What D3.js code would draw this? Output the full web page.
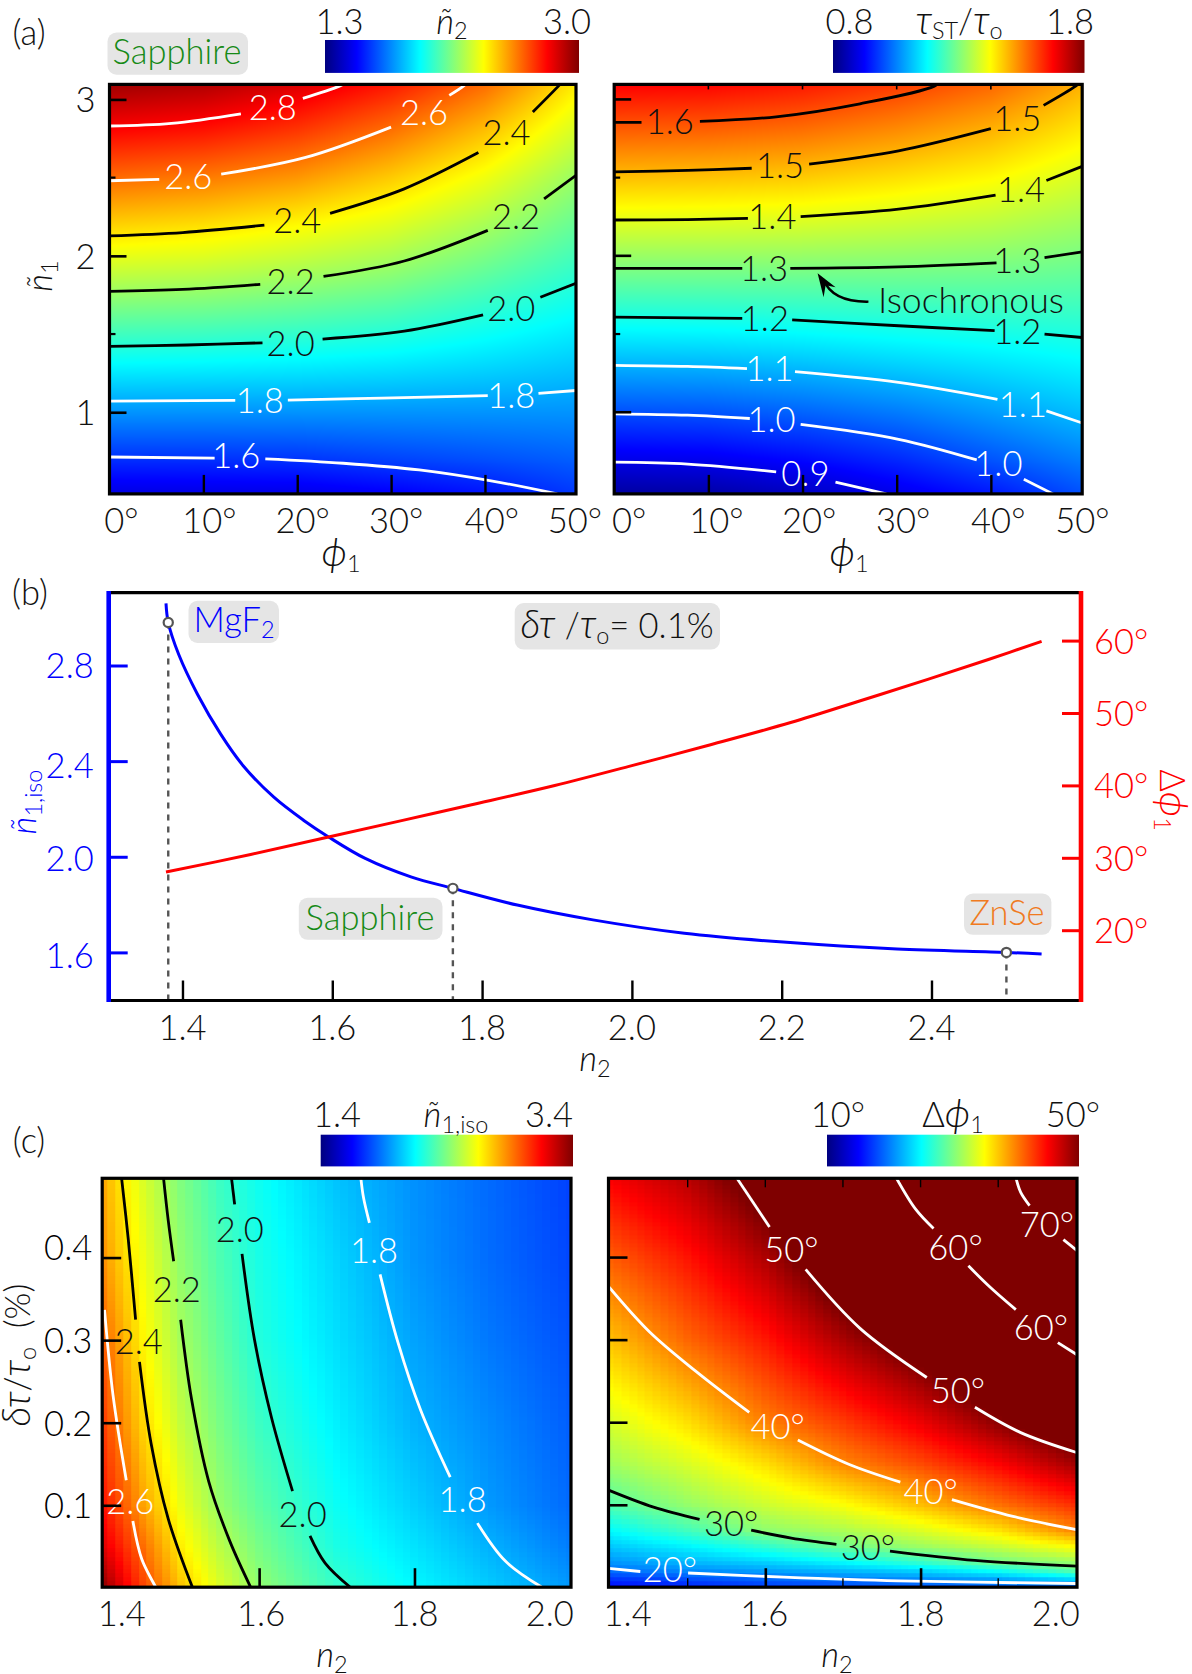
<!DOCTYPE html>
<html><head><meta charset="utf-8">
<script src="https://cdn.jsdelivr.net/npm/d3@7"></script>
<style>
html,body{margin:0;padding:0;background:#fff}
svg{display:block}
text{font-family:"Lato","Open Sans",sans-serif;font-weight:300;fill:#111}
.it{font-style:italic}
.gr{font-style:italic}
</style></head><body>
<script>
// ---------- panel (a) left: n~2 over (phi1, n~1)
const aLeftX=[0,10,20,30,40,50];
const aLeftY=[3.1,2.8,2.5,2.2,1.9,1.6,1.3,1.0,0.7,0.47];
const aLeftZ=[
[2.95,2.92,2.85,2.75,2.61,2.39],
[2.783,2.757,2.697,2.6,2.47,2.29],
[2.611,2.583,2.537,2.45,2.34,2.19],
[2.44,2.417,2.371,2.313,2.22,2.106],
[2.272,2.258,2.224,2.181,2.106,2.02],
[2.102,2.093,2.072,2.042,1.99,1.933],
[1.931,1.925,1.916,1.901,1.876,1.846],
[1.76,1.759,1.759,1.76,1.76,1.759],
[1.592,1.594,1.6,1.623,1.646,1.672],
[1.463,1.466,1.47,1.5,1.54,1.606]];
const aLeftContours=[
[2.8,[[[0,2.83],[6.6,2.847],[14,2.908]],[[20.6,3.007],[24.5,3.085],[26,3.13]]]],
[2.6,[[[0,2.48],[5.3,2.489]],[[11.9,2.522],[20.9,2.629],[30,2.823]],[[36.2,3.026],[37.7,3.085],[38.5,3.13]]]],
[2.4,[[[0,2.128],[7.8,2.149],[16.5,2.196]],[[23.5,2.272],[31.4,2.428],[39.3,2.66]],[[45.1,2.92],[47.9,3.09],[48.5,3.13]]]],
[2.2,[[[0,1.773],[7.8,1.785],[16.06,1.818]],[[22.8,1.868],[31.4,1.967],[40.3,2.163]],[[46.3,2.364],[49.7,2.515]]]],
[2.0,[[[0,1.421],[8.25,1.43],[16.3,1.444]],[[22.7,1.468],[31.4,1.518],[39.8,1.622]],[[45.9,1.735],[49.7,1.825]]]],
[1.8,[[[0,1.071],[13.4,1.076]],[[19,1.078],[29,1.09],[40.3,1.106]],[[45.7,1.121],[49.7,1.139]]]],
[1.6,[[[0,0.714],[11.2,0.707]],[[16.6,0.702],[24.9,0.674],[33,0.631],[40.8,0.56],[47.7,0.478]]]]];
const aLeftLabels=[[2.8,17.4,2.948],[2.6,33.5,2.913],[2.6,8.4,2.508],[2.4,42.3,2.79],[2.4,20,2.227],[2.2,43.3,2.25],[2.2,19.3,1.837],[2.0,42.8,1.66],[2.0,19.3,1.442],[1.8,16,1.073],[1.8,42.8,1.104],[1.6,13.5,0.721]];
// ---------- panel (a) right: tau_ST/tau_o
const aRightX=[0,10,20,30,40,50];
const aRightY=[3.1,2.8,2.5,2.2,1.9,1.6,1.3,1.0,0.7,0.47];
const aRightZ=[
[1.678,1.674,1.653,1.619,1.575,1.5],
[1.583,1.579,1.565,1.537,1.5,1.443],
[1.488,1.484,1.476,1.455,1.429,1.386],
[1.391,1.389,1.385,1.373,1.358,1.331],
[1.294,1.294,1.293,1.292,1.288,1.276],
[1.197,1.199,1.204,1.212,1.218,1.222],
[1.1,1.103,1.113,1.13,1.148,1.168],
[1.003,1.008,1.024,1.047,1.079,1.113],
[0.906,0.911,0.933,0.965,1.009,1.052],
[0.832,0.837,0.864,0.903,0.945,1.004]];
const aRightContours=[
[1.6,[[[0,2.853],[2.9,2.853]],[[9.1,2.86],[17.2,2.889],[26.1,2.972],[34,3.085],[35,3.13]]]],
[1.5,[[[0,2.537],[7.8,2.546],[14.6,2.56]],[[20.7,2.586],[30.2,2.671],[40,2.813]],[[45.6,2.962],[49,3.085],[49.7,3.12]]]],
[1.4,[[[0,2.229],[7.8,2.232],[14.2,2.239]],[[19.8,2.251],[30.2,2.298],[40.5,2.388]],[[45.9,2.482],[49.7,2.572]]]],
[1.3,[[[0,1.92],[13.6,1.92]],[[18.7,1.92],[30.2,1.929],[40.6,1.955]],[[45.7,1.988],[49.7,2.026]]]],
[1.2,[[[0,1.608],[13.6,1.6]],[[18.9,1.591],[30.2,1.553],[40.4,1.522]],[[45.7,1.499],[49.7,1.478]]]],
[1.1,[[[0,1.3],[7.8,1.293],[14.1,1.279]],[[19.2,1.26],[30.2,1.191],[40.7,1.083]],[[45.9,1.009],[49.7,0.931]]]],
[1.0,[[[0,0.99],[7.8,0.981],[14.4,0.96]],[[19.8,0.922],[30.2,0.827],[38.5,0.695]],[[43.5,0.572],[46.6,0.478]]]],
[0.9,[[[0,0.681],[7.8,0.669],[17.2,0.619]],[[23.5,0.553],[28.9,0.478]]]]];
const aRightLabels=[[1.6,5.9,2.858],[1.5,42.8,2.877],[1.5,17.6,2.577],[1.4,43.2,2.421],[1.4,16.8,2.251],[1.3,42.8,1.972],[1.3,15.9,1.92],[1.2,16,1.596],[1.2,42.8,1.513],[1.1,16.5,1.277],[1.1,43.4,1.052],[1.0,16.7,0.955],[1.0,40.8,0.674],[0.9,20.3,0.608]];
// ---------- panel (b)
const n2Blue=[1.378,1.381,1.395,1.42,1.451,1.481,1.522,1.562,1.595,1.644,1.705,1.761,1.847,1.948,2.07,2.202,2.354,2.5,2.547];
const n1Iso=[3.06,2.98,2.846,2.68,2.513,2.381,2.249,2.152,2.083,1.993,1.916,1.868,1.798,1.736,1.68,1.643,1.614,1.6,1.593];
const n2Red=[1.378,1.491,1.595,1.694,1.786,1.897,2.0,2.1,2.212,2.304,2.395,2.476,2.547];
const dPhi=[28.03,30.45,32.88,35.17,37.32,39.98,42.73,45.48,48.68,51.66,54.64,57.39,59.9];
const materialN2=[1.381,1.761,2.5];
const materialN1=[2.98,1.868,1.6];
// ---------- panel (c) left: n~1,iso
const cLeftX=[1.4,1.425,1.45,1.5,1.55,1.6,1.7,1.8,1.9,2.0];
const cLeftY=[0.5,0.4,0.3,0.2,0.1,0.05,0];
const cLeftZ=[
[2.5,2.39,2.3,2.147,2.033,1.957,1.837,1.754,1.687,1.62],
[2.54,2.43,2.34,2.178,2.065,1.977,1.867,1.76,1.69,1.63],
[2.62,2.496,2.378,2.211,2.097,1.994,1.886,1.785,1.71,1.65],
[2.68,2.555,2.43,2.26,2.137,2.036,1.915,1.81,1.74,1.67],
[2.75,2.64,2.52,2.33,2.187,2.093,1.953,1.858,1.765,1.69],
[2.83,2.72,2.61,2.386,2.245,2.137,1.98,1.892,1.805,1.72],
[2.97,2.82,2.68,2.46,2.304,2.18,2.027,1.93,1.85,1.77]];
const cLeftContours=[
[2.6,[[[1.401,0.3368],[1.412,0.233],[1.429,0.1303]],[[1.4375,0.081],[1.449,0.0346],[1.467,0.001]]]],
[2.4,[[[1.423,0.496],[1.4315,0.4226],[1.441,0.3247]],[[1.446,0.2737],[1.461,0.1745],[1.483,0.0836],[1.514,0.001]]]],
[2.2,[[[1.477,0.496],[1.483,0.445],[1.49,0.3955]],[[1.499,0.3247],[1.513,0.2286],[1.535,0.1294],[1.562,0.0572],[1.589,0.001]]]],
[2.0,[[[1.5645,0.496],[1.5685,0.4645]],[[1.578,0.4045],[1.594,0.3008],[1.616,0.206],[1.643,0.1172]],[[1.6655,0.063],[1.685,0.03],[1.717,0.001]]]],
[1.8,[[[1.731,0.496],[1.7345,0.472],[1.742,0.442]],[[1.7557,0.3797],[1.779,0.2963],[1.808,0.215],[1.846,0.134]],[[1.881,0.0784],[1.917,0.0324],[1.9635,0.001]]]]];
const cLeftLabels=[[2.0,1.575,0.434],[2.2,1.494,0.361],[2.4,1.445,0.2985],[2.6,1.434,0.1046],[2.0,1.656,0.0888],[1.8,1.748,0.409],[1.8,1.862,0.1068]];
// ---------- panel (c) right: Delta phi1
const cRightX=[1.4,1.5,1.6,1.7,1.8,1.9,2.0];
const cRightY=[0.5,0.4,0.3,0.2,0.15,0.1,0.07,0.05,0.03,0.02,0.01,0];
const cRightZ=[
[45.4,47.9,52.3,58.7,62,68,77],
[41.4,44.3,48.2,53.5,57,63.2,69.2],
[37.4,41,44.1,48.3,52,56.3,61.3],
[33.4,36.2,40,42.7,45.7,49.5,53],
[31.3,33.5,36.2,39.7,42.1,45,48.6],
[28.2,30.8,33,34.8,37.5,40.5,43.2],
[25,27.6,30.6,31.8,33.7,36.1,39.9],
[22.9,24.7,26.9,29.4,31.2,32.9,35.2],
[20.7,22,23,24.6,26.7,29.2,30.8],
[19.3,20.3,21.2,22.2,23.2,25.3,28.3],
[17,18,19,19.8,20.5,21.4,23.5],
[15,16,17,17.5,18,18.3,18.6]];
const cRightContours=[
[70,[[[1.923,0.496],[1.929,0.479],[1.9404,0.463]],[[1.984,0.4217],[2.002,0.408]]]],
[60,[[[1.769,0.496],[1.7936,0.4586],[1.8167,0.4352]],[[1.8616,0.39],[1.8897,0.364],[1.9227,0.3369]],[[1.9768,0.297],[2.002,0.282]]]],
[50,[[[1.5635,0.496],[1.6054,0.437]],[[1.652,0.3856],[1.722,0.3143],[1.808,0.2548]],[[1.87,0.2187],[1.929,0.188],[2.002,0.1636]]]],
[40,[[[1.398,0.365],[1.451,0.3098],[1.5103,0.2624],[1.5793,0.2124]],[[1.6419,0.179],[1.7074,0.1497],[1.7739,0.128]],[[1.8404,0.1068],[1.919,0.0865],[2.002,0.0703]]]],
[30,[[[1.398,0.1184],[1.456,0.0978],[1.5153,0.0829]],[[1.5818,0.0698],[1.6335,0.0603],[1.6916,0.0527]],[[1.7606,0.0446],[1.87,0.0333],[2.002,0.0262]]]],
[20,[[[1.398,0.0236],[1.439,0.0198]],[[1.5005,0.018],[1.6236,0.013],[1.7714,0.0085],[2.002,0.0053]]]]];
const cRightLabels=[[50,1.6335,0.41],[60,1.845,0.412],[70,1.9626,0.44],[60,1.955,0.3152],[50,1.848,0.2385],[40,1.616,0.1957],[40,1.813,0.1167],[30,1.556,0.0775],[30,1.732,0.049],[20,1.477,0.022]];
// ---------- tick labels
const phiTicks=[0,10,20,30,40,50];
const n1Ticks=[1,2,3];
const n1Minor=[1.5,2.5];
const cN2Ticks=[1.4,1.6,1.8,2.0];
const cYTicks=[0.1,0.2,0.3,0.4];
const bN2Ticks=[1.4,1.6,1.8,2.0,2.2,2.4];
const bLeftTicks=[1.6,2.0,2.4,2.8];
const bRightTicks=[20,30,40,50,60];

// ---------- drawing
const W=1192,H=1674,FS=34.5;
const svg=d3.select("body").append("svg").attr("width",W).attr("height",H).attr("viewBox",[0,0,W,H]);
const defs=svg.append("defs");
const jet=d3.scaleLinear().domain([0,.125,.375,.625,.875,1]).range(["#00007f","#0000ff","#00ffff","#ffff00","#ff0000","#7f0000"]).clamp(true);

function sample(xs,ys,zs,x,y){
  let i=d3.bisectRight(xs,x)-1; i=Math.max(0,Math.min(xs.length-2,i));
  let j=0; while(j<ys.length-2 && y<ys[j+1]) j++;
  const tx=(x-xs[i])/(xs[i+1]-xs[i]), ty=(y-ys[j])/(ys[j+1]-ys[j]);
  const a=zs[j][i]*(1-tx)+zs[j][i+1]*tx, b=zs[j+1][i]*(1-tx)+zs[j+1][i+1]*tx;
  return a*(1-ty)+b*ty;
}
function raster(g,x,y,p){
  const [x0,x1]=x.range(),[y1,y0]=y.range();
  const w=Math.round(x1-x0),h=Math.round(y1-y0);
  const c=document.createElement("canvas");c.width=w;c.height=h;
  const ctx=c.getContext("2d");const im=ctx.createImageData(w,h);
  const col=d3.scaleLinear().domain(p.colorDomain).range([0,1]);
  for(let r=0;r<h;r++)for(let q=0;q<w;q++){
    let dx=x.invert(x0+q+.5),dy=y.invert(y0+r+.5);
    if(p.step){dx=Math.round(dx/p.step[0])*p.step[0];dy=Math.round(dy/p.step[1])*p.step[1];}
    const v=sample(p.xs,p.ys,p.zs,dx,dy);
    const cc=d3.rgb(jet(col(v)));
    const k=(r*w+q)*4;im.data[k]=cc.r;im.data[k+1]=cc.g;im.data[k+2]=cc.b;im.data[k+3]=255;
  }
  ctx.putImageData(im,0,0);
  g.append("image").attr("x",x0).attr("y",y0).attr("width",x1-x0).attr("height",y1-y0)
   .attr("preserveAspectRatio","none").attr("href",c.toDataURL());
}
let clipN=0;
const line=d3.line().curve(d3.curveCatmullRom.alpha(.5));
function heat(p){
  const x=d3.scaleLinear().domain(p.xDomain).range(p.xRange);
  const y=d3.scaleLinear().domain(p.yDomain).range(p.yRange);
  const g=svg.append("g");
  raster(g,x,y,p);
  const id="clip"+(clipN++);
  defs.append("clipPath").attr("id",id).append("rect").attr("x",p.xRange[0]).attr("y",p.yRange[1]).attr("width",p.xRange[1]-p.xRange[0]).attr("height",p.yRange[0]-p.yRange[1]);
  const cg=g.append("g").attr("clip-path",`url(#${id})`);
  p.contours.forEach(([lev,segs])=>{
    segs.forEach(s=>cg.append("path").attr("fill","none").attr("stroke",p.white(lev)?"#fff":"#000").attr("stroke-width",2.8)
      .attr("d",line(s.map(d=>[x(d[0]),y(d[1])]))));
  });
  p.labels.forEach(([lev,a,b])=>{
    g.append("text").attr("x",x(a)).attr("y",y(b)).attr("dy",".36em").attr("text-anchor","middle").attr("font-size",FS)
      .style("fill",p.white(lev)?"#fff":"#111").text(p.fmt(lev));
  });
  return {g,x,y};
}
function frame(p){
  svg.append("rect").attr("x",p.xRange[0]).attr("y",p.yRange[1]).attr("width",p.xRange[1]-p.xRange[0]).attr("height",p.yRange[0]-p.yRange[1])
    .attr("fill","none").attr("stroke","#000").attr("stroke-width",3.2);
}
function axisB(sel,x,yPos,vals,len,sw){
  const ax=d3.axisBottom(x).tickValues(vals).tickSizeInner(-len).tickSizeOuter(0).tickFormat("");
  const g=sel.append("g").attr("transform",`translate(0,${yPos})`).call(ax);
  g.select(".domain").remove();
  g.selectAll("text").remove();
  g.selectAll("line").attr("stroke","#000").attr("stroke-width",sw);
  return g;
}
function axisL(sel,y,xPos,vals,fmt,pad,len,sw,color,shift){
  const ax=d3.axisLeft(y).tickValues(vals).tickSizeInner(-len).tickSizeOuter(0).tickFormat(fmt);
  const g=sel.append("g").attr("transform",`translate(${xPos},0)`).call(ax);
  g.select(".domain").remove();
  g.selectAll("line").attr("stroke",color||"#000").attr("stroke-width",sw);
  g.selectAll("text").attr("x",-pad).attr("dy",".36em").attr("y",(d,i)=>shift?shift[i]:0).attr("font-size",FS).style("fill",color||"#111");
  return g;
}
function minorTicks(sel,x,y,vals,len,sw,vertical,pos){
  vals.forEach(v=>{
    if(vertical) sel.append("line").attr("x1",x(v)).attr("x2",x(v)).attr("y1",pos).attr("y2",pos+len).attr("stroke","#000").attr("stroke-width",sw);
    else sel.append("line").attr("y1",y(v)).attr("y2",y(v)).attr("x1",pos).attr("x2",pos+len).attr("stroke","#000").attr("stroke-width",sw);
  });
}
function colorbar(x0,x1,y0,y1){
  const id="cb"+(clipN++);
  const lg=defs.append("linearGradient").attr("id",id);
  jet.domain().forEach(t=>lg.append("stop").attr("offset",t).attr("stop-color",jet(t)));
  svg.append("rect").attr("x",x0).attr("y",y0).attr("width",x1-x0).attr("height",y1-y0).attr("fill",`url(#${id})`);
}
function txt(x,y,s,size,color,anchor){
  const t=svg.append("text").attr("x",x).attr("y",y).attr("font-size",size||FS).attr("text-anchor",anchor||"middle");
  if(color) t.style("fill",color);
  t.text(s);return t;
}
function rich(x,y,parts,size,color,rot){
  const t=svg.append("text").attr("text-anchor","middle").attr("font-size",size).attr("transform",`translate(${x},${y})${rot?` rotate(${rot})`:""}`);
  if(color) t.style("fill",color);
  parts.forEach(([s,k])=>{
    const sp=t.append("tspan").text(s);
    if(k==="i") sp.attr("class","it");
    if(k==="g") sp.attr("class","gr").attr("font-size",size*1.14);
    if(k==="sub") sp.attr("font-size",size*.68).attr("dy",size*.17);
    if(k==="up") sp.attr("dy",-size*.17);
  });
  return t;
}
function box(x0,x1,y0,y1){svg.append("rect").attr("x",x0).attr("y",y0).attr("width",x1-x0).attr("height",y1-y0).attr("rx",9).attr("fill","#e5e5e5");}
function axisLabelsX(x,vals,fmt,dx,base){vals.forEach((v,i)=>txt(x(v)+dx[i],base,fmt(v)));}

const f1=d3.format(".1f"),deg=d=>d+"°";
// ---- (a) left
const pAL={xs:aLeftX,ys:aLeftY,zs:aLeftZ,colorDomain:[1.3,3.0],xDomain:[0,49.7],xRange:[109.5,576],yDomain:[0.478,3.096],yRange:[493.9,84.4],contours:aLeftContours,labels:aLeftLabels,white:l=>l<=1.8||l>=2.6,fmt:f1};
const AL=heat(pAL);
axisB(svg,AL.x,493.9,[10,20,30,40],19,2.4);
axisL(svg,AL.y,109.5,n1Ticks,d=>d,14,17,2.6);
minorTicks(svg,AL.x,AL.y,n1Minor,6,2.2,false,109.5);
frame(pAL);
axisLabelsX(AL.x,phiTicks,deg,[12,6,5.5,5,7,-4],532.7);
// ---- (a) right
const pAR={xs:aRightX,ys:aRightY,zs:aRightZ,colorDomain:[0.8,1.8],xDomain:[0,49.7],xRange:[614.2,1082.2],yDomain:[0.478,3.096],yRange:[493.9,84.4],contours:aRightContours,labels:aRightLabels,white:l=>l<=1.1,fmt:f1};
const AR=heat(pAR);
axisB(svg,AR.x,493.9,[10,20,30,40],19,2.4);
minorTicks(svg,AR.x,AR.y,[10,20,30,40],5,1.6,true,84.4);
minorTicks(svg,AR.x,AR.y,n1Ticks,17,2.6,false,614.2);
minorTicks(svg,AR.x,AR.y,n1Minor,6,2.2,false,614.2);
frame(pAR);
axisLabelsX(AR.x,phiTicks,deg,[15,8,6.6,6.5,7.4,-2.7],532.7);
// annotation
txt(971,313,"Isochronous",FS).attr("textLength",186).attr("lengthAdjust","spacingAndGlyphs");
svg.append("path").attr("fill","none").attr("stroke","#000").attr("stroke-width",2.4)
  .attr("d",`M${AR.x(27)},${AR.y(1.707)} C${AR.x(25)},${AR.y(1.705)} ${AR.x(23)},${AR.y(1.73)} ${AR.x(22.2)},${AR.y(1.85)}`);
svg.append("path").attr("fill","#000").attr("d",()=>{const ax=AR.x(21.6),ay=AR.y(1.889);return `M${ax},${ay} L${ax+18},${ay+14} L${ax+8},${ay+12} L${ax+6},${ay+24} Z`;});
// colorbars & labels of row (a)
colorbar(325,579,40,72.9);
txt(339.5,33.5,"1.3");txt(567,33.5,"3.0");
rich(452,33.5,[["ñ","i"],["2","sub"]],FS);
colorbar(833,1084.5,40,72.9);
txt(849.6,33.5,"0.8");txt(1070,33.5,"1.8");
rich(959,33.5,[["τ","g"],["ST","sub"],["/","up"],["τ","g"],["o","sub"]],FS);
txt(29,45,"(a)",FS);
box(107.5,248,32.6,74.7);
txt(177,64,"Sapphire",FS,"#168a16");
rich(341,566,[["ϕ","g"],["1","sub"]],FS);
rich(849,566,[["ϕ","g"],["1","sub"]],FS);
rich(52,276,[["ñ","i"],["1","sub"]],FS,null,-90);

// ---- (b)
const bx=d3.scaleLinear().domain([1.3015,2.5996]).range([108.7,1081]);
const by=d3.scaleLinear().domain([1.6,2.8]).range([952.4,665.5]);
const byR=d3.scaleLinear().domain([20,60]).range([930.2,640.6]);
const bTop=592.6,bBot=1000.5;
box(188.5,279,600.8,643);box(514.7,720,603,649.6);box(298.8,442.5,897.7,939.8);box(964,1051.4,893.4,934.8);
materialN2.forEach((v,i)=>svg.append("line").attr("x1",bx(v)).attr("x2",bx(v)).attr("y1",by(materialN1[i])).attr("y2",bBot).attr("stroke","#555").attr("stroke-width",2.4).attr("stroke-dasharray","6 6"));
svg.append("path").attr("fill","none").attr("stroke","#0000ff").attr("stroke-width",3)
  .attr("d",d3.line().curve(d3.curveCatmullRom.alpha(.5)).x(d=>bx(d)).y((d,i)=>by(n1Iso[i]))(n2Blue));
svg.append("path").attr("fill","none").attr("stroke","#ff0000").attr("stroke-width",3)
  .attr("d",d3.line().curve(d3.curveCatmullRom.alpha(.5)).x(d=>bx(d)).y((d,i)=>byR(dPhi[i]))(n2Red));
materialN2.forEach((v,i)=>svg.append("circle").attr("cx",bx(v)).attr("cy",by(materialN1[i])).attr("r",4.6).attr("fill","#fff").attr("stroke","#555").attr("stroke-width",2.2));
const bg=svg.append("g");
axisB(bg,bx,bBot,bN2Ticks,20,2.4);
axisLabelsX(bx,bN2Ticks,f1,[0,0,0,0,0,0],1040);
axisL(bg,by,108.7,bLeftTicks,f1,15,19,3,"#0000ff",[3,1,4,0]);
const axR=d3.axisRight(byR).tickValues(bRightTicks).tickSizeInner(-19).tickSizeOuter(0).tickFormat(deg);
const gR=bg.append("g").attr("transform","translate(1081,0)").call(axR);
gR.select(".domain").remove();
gR.selectAll("line").attr("stroke","#ff0000").attr("stroke-width",3);
gR.selectAll("text").attr("x",13).attr("dy",".36em").attr("font-size",FS).style("fill","#ff0000");
svg.append("line").attr("x1",108.7).attr("x2",1081).attr("y1",bTop).attr("y2",bTop).attr("stroke","#000").attr("stroke-width",3.2);
svg.append("line").attr("x1",108.7).attr("x2",1081).attr("y1",bBot).attr("y2",bBot).attr("stroke","#000").attr("stroke-width",3.2);
svg.append("line").attr("x1",108.7).attr("x2",108.7).attr("y1",bTop-1.5).attr("y2",bBot+1.5).attr("stroke","#0000ff").attr("stroke-width",4.6);
svg.append("line").attr("x1",1081).attr("x2",1081).attr("y1",bTop-1.5).attr("y2",bBot+1.5).attr("stroke","#ff0000").attr("stroke-width",4.6);
txt(30,605,"(b)",FS);
rich(234,632,[["MgF",""],["2","sub"]],FS,"#0000ff");
rich(617,638,[["δτ","g"],[" /",""],["τ","g"],["o","sub"],["= 0.1%","up"]],FS);
txt(370,930,"Sapphire",FS,"#168a16");
txt(1007,925,"ZnSe",FS,"#f07a20");
rich(595,1071,[["n","i"],["2","sub"]],FS);
rich(36,802,[["ñ","i"],["1,iso","sub"]],FS,"#0000ff",-90);
rich(1160,800,[["Δ",""],["ϕ","g"],["1","sub"]],FS,"#ff0000",90);

// ---- (c) left
const pCL={xs:cLeftX,ys:cLeftY,zs:cLeftZ,colorDomain:[1.3,3.0],step:[0.01,0.005],xDomain:[1.398,2.0015],xRange:[102.2,571],yDomain:[0.0008,0.496],yRange:[1587.2,1178.3],contours:cLeftContours,labels:cLeftLabels,white:l=>l===1.8||l===2.6,fmt:f1};
const CL=heat(pCL);
axisB(svg,CL.x,1587.2,[1.6,1.8],19,2.6);
axisL(svg,CL.y,102.2,cYTicks,f1,10,19,2.6,"#000",[0,0,0,-10]);
frame(pCL);
axisLabelsX(CL.x,cN2Ticks,f1,[18,2,0,-20],1626.3);
// ---- (c) right
const pCR={xs:cRightX,ys:cRightY,zs:cRightZ,colorDomain:[10,50],step:[0.01,0.005],xDomain:[1.398,2.0015],xRange:[608.5,1077],yDomain:[0.0008,0.496],yRange:[1587.2,1178.3],contours:cRightContours,labels:cRightLabels,white:l=>l!==30,fmt:deg};
const CR=heat(pCR);
axisB(svg,CR.x,1587.2,[1.6,1.8],19,2.6);
minorTicks(svg,CR.x,CR.y,[1.5,1.7,1.9],-9,1.4,true,1587.2);
minorTicks(svg,CR.x,CR.y,[1.5,1.6,1.7,1.8,1.9],9,1.4,true,1178.3);
minorTicks(svg,CR.x,CR.y,cYTicks,19,2.6,false,608.5);
frame(pCR);
axisLabelsX(CR.x,cN2Ticks,f1,[17.6,-1,0,-20],1626.3);
colorbar(320.7,573,1134.7,1166.4);
txt(337,1127,"1.4");txt(549,1127,"3.4");
rich(456,1127,[["ñ","i"],["1,iso","sub"]],FS);
colorbar(827,1079,1134.7,1166.4);
txt(838,1127,"10°");txt(1073,1127,"50°");
rich(953,1127,[["Δ",""],["ϕ","g"],["1","sub"]],FS);
txt(29,1153,"(c)",FS);
rich(332,1667,[["n","i"],["2","sub"]],FS);
rich(837,1667,[["n","i"],["2","sub"]],FS);
rich(30,1355,[["δτ","g"],["/",""],["τ","g"],["o","sub"],["\u00a0\u00a0(%)","up"]],FS,null,-90);
</script>
</body></html>
